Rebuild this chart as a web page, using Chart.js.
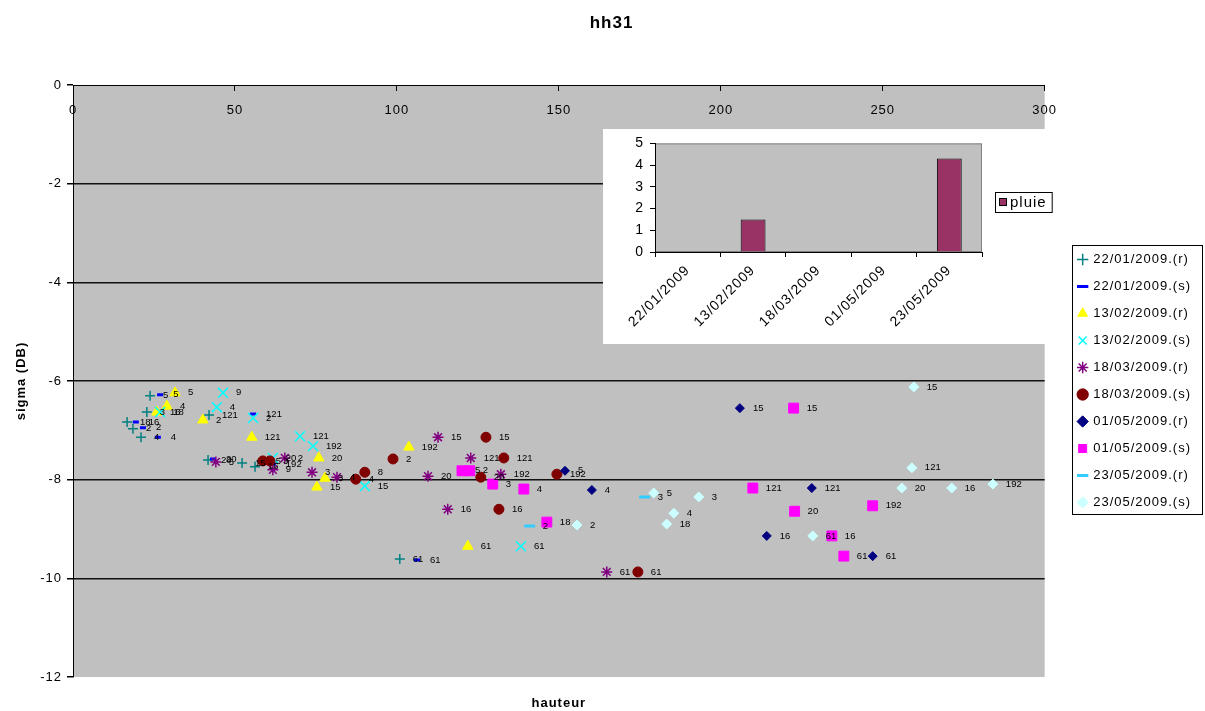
<!DOCTYPE html>
<html><head><meta charset="utf-8">
<script src="https://cdn.jsdelivr.net/npm/chart.js@4.4.1/dist/chart.umd.min.js"></script>
<style>
html,body{margin:0;padding:0;background:#fff;}
#wrap{position:relative;width:1205px;height:711px;overflow:hidden;}
#main{position:absolute;left:0;top:0;}
#inset{position:absolute;left:603px;top:129px;}
</style></head><body>
<div id="wrap"><canvas id="main" width="1205" height="711"></canvas><canvas id="inset" width="466" height="215"></canvas></div>
<script>
// ---------- DATA (hauteur = x, sigma (DB) = y, station ids = point labels) ----------
const seriesNames = ['22/01/2009.(r)','22/01/2009.(s)','13/02/2009.(r)','13/02/2009.(s)','18/03/2009.(r)',
                     '18/03/2009.(s)','01/05/2009.(r)','01/05/2009.(s)','23/05/2009.(r)','23/05/2009.(s)'];

const h_2201r   = [23.8, 22.8, 16.7, 18.5, 21.0, 42.0, 41.7, 52.2, 56.2, 100.9];
const sig_2201r = [-6.30, -6.63, -6.83, -6.97, -7.14, -6.69, -7.60, -7.66, -7.74, -9.61];
const id_2201r  = ['5','3','18','2','4','121','20','15','16','61'];

const h_2201s   = [26.9, 19.4, 21.6, 26.2, 55.6, 43.2, 61.7, 106.2];
const sig_2201s = [-6.28, -6.83, -6.95, -7.14, -6.67, -7.58, -7.68, -9.63];
const id_2201s  = ['5','16','2','4','121','20','192','61'];

const h_1302r   = [31.5, 25.9, 29.0, 40.1, 55.2, 75.9, 77.8, 75.3, 103.7, 121.9];
const sig_1302r = [-6.24, -6.63, -6.51, -6.79, -7.14, -7.56, -7.97, -8.15, -7.34, -9.35];
const id_1302r  = ['5','16','4','2','121','20','3','15','192','61'];

const h_1302s   = [46.3, 44.4, 26.9, 55.6, 70.1, 74.1, 61.7, 90.1, 138.3];
const sig_1302s = [-6.24, -6.53, -6.63, -6.75, -7.12, -7.32, -7.56, -8.13, -9.35];
const id_1302s  = ['9','4','18','2','121','192','20','15','61'];

const h_1803r   = [112.7, 122.8, 109.6, 132.1, 115.7, 164.8, 73.8, 81.5, 44.1, 65.4, 61.7];
const sig_1803r = [-7.14, -7.56, -7.93, -7.89, -8.60, -9.87, -7.85, -7.95, -7.64, -7.56, -7.80];
const id_1803r  = ['15','121','20','192','16','61','3','4','5','2','9'];

const h_1803s   = [127.5, 133.0, 98.8, 90.1, 125.9, 149.4, 131.5, 174.4, 87.3, 58.6, 60.8];
const sig_1803s = [-7.14, -7.56, -7.58, -7.85, -7.95, -7.89, -8.60, -9.87, -7.99, -7.62, -7.62];
const id_1803s  = ['15','121','2','8','20','192','16','61','4','5','3'];

const h_0105r   = [205.9, 151.9, 160.2, 228.1, 214.2, 246.9];
const sig_0105r = [-6.55, -7.82, -8.21, -8.17, -9.14, -9.55];
const id_0105r  = ['15','5','4','121','16','61'];

const h_0105s   = [222.5, 209.9, 222.8, 246.9, 234.3, 238.0, 120.1, 122.5, 129.6, 139.2, 146.3];
const sig_0105s = [-6.55, -8.17, -8.64, -8.53, -9.14, -9.55, -7.82, -7.82, -8.09, -8.19, -8.86];
const id_0105s  = ['15','121','20','192','16','61','5','2','3','4','18'];

const h_2305r   = [176.5, 141.0];
const sig_2305r = [-8.35, -8.94];
const id_2305r  = ['3','2'];

const h_2305s   = [259.6, 259.0, 255.9, 271.3, 284.0, 179.3, 193.2, 185.5, 183.3, 155.6, 228.4];
const sig_2305s = [-6.12, -7.76, -8.17, -8.17, -8.09, -8.27, -8.35, -8.68, -8.90, -8.92, -9.14];
const id_2305s  = ['15','121','20','16','192','5','3','4','18','2','61'];

// inset bar chart (pluie)
const rainDates = ['22/01/2009','13/02/2009','18/03/2009','01/05/2009','23/05/2009'];
const rainMm    = [0, 1.5, 0, 0, 4.3];

// ---------- STYLES ----------
const FONT = '"Liberation Sans", Arial, sans-serif';
Chart.defaults.font.family = FONT;
Chart.defaults.color = '#000';

const seriesH   = [h_2201r, h_2201s, h_1302r, h_1302s, h_1803r, h_1803s, h_0105r, h_0105s, h_2305r, h_2305s];
const seriesSig = [sig_2201r, sig_2201s, sig_1302r, sig_1302s, sig_1803r, sig_1803s, sig_0105r, sig_0105s, sig_2305r, sig_2305s];
const seriesIds = [id_2201r, id_2201s, id_1302r, id_1302s, id_1803r, id_1803s, id_0105r, id_0105s, id_2305r, id_2305s];

const styles = [
  {pointStyle:'cross',    pointRadius:5,   color:'#008080', fill:'#008080', bw:1.5},
  {pointStyle:'line',     pointRadius:3,   color:'#0000FF', fill:'#0000FF', bw:3},
  {pointStyle:'triangle', pointRadius:6,   color:'#FFFF00', fill:'#FFFF00', bw:1},
  {pointStyle:'crossRot', pointRadius:7,   color:'#00FFFF', fill:'#00FFFF', bw:1.5},
  {pointStyle:'star',     pointRadius:5.5, color:'#800080', fill:'#800080', bw:1.5},
  {pointStyle:'circle',   pointRadius:5,   color:'#800000', fill:'#800000', bw:1},
  {pointStyle:'rectRot',  pointRadius:4.5, color:'#000080', fill:'#000080', bw:1},
  {pointStyle:'rect',     pointRadius:7,   color:'#FF00FF', fill:'#FF00FF', bw:1},
  {pointStyle:'line',     pointRadius:5.5, color:'#33CCFF', fill:'#33CCFF', bw:3},
  {pointStyle:'rectRot',  pointRadius:5,   color:'#CCFFFF', fill:'#CCFFFF', bw:1}
];

const datasets = seriesNames.map((name, i) => ({
  label: name,
  data: seriesH[i].map((x, j) => ({x: x, y: seriesSig[i][j]})),
  pointIds: seriesIds[i],
  showLine: false,
  order: seriesNames.length - i,
  xAxisID: 'x', yAxisID: 'y',
  pointStyle: styles[i].pointStyle,
  pointRadius: styles[i].pointRadius,
  pointHoverRadius: styles[i].pointRadius,
  backgroundColor: styles[i].fill,
  borderColor: styles[i].color,
  pointBackgroundColor: styles[i].fill,
  pointBorderColor: styles[i].color,
  pointBorderWidth: styles[i].bw,
  borderWidth: styles[i].bw
}));

// ---------- PLUGINS ----------
const spacing = {
  id: 'spacing',
  beforeLayout(chart) { chart.ctx.letterSpacing = '1px'; },
  beforeDraw(chart) { chart.ctx.letterSpacing = '1px'; }
};
const plotBg = {
  id: 'plotBg',
  beforeDraw(chart, args, opts) {
    const {ctx, chartArea: a} = chart;
    ctx.save();
    ctx.fillStyle = '#ffffff';
    ctx.fillRect(0, 0, chart.width, chart.height);
    ctx.fillStyle = opts.color || '#C0C0C0';
    ctx.fillRect(a.left, a.top, a.right - a.left, a.bottom - a.top);
    ctx.restore();
  }
};
const pointIdLabels = {
  id: 'pointIdLabels',
  afterDatasetsDraw(chart) {
    const ctx = chart.ctx;
    ctx.save();
    ctx.letterSpacing = '0px';
    ctx.font = '9.5px ' + FONT;
    ctx.fillStyle = '#000';
    ctx.textAlign = 'left';
    ctx.textBaseline = 'middle';
    chart.data.datasets.forEach((ds, i) => {
      const meta = chart.getDatasetMeta(i);
      meta.data.forEach((el, j) => {
        ctx.fillText(ds.pointIds[j], el.x + 13, el.y);
      });
    });
    ctx.restore();
  }
};
const legendBox = {
  id: 'legendBox',
  afterDraw(chart) {
    const lg = chart.legend;
    if (!lg || !lg.legendHitBoxes || !lg.legendHitBoxes.length) return;
    const hb = lg.legendHitBoxes;
    const first = hb[0], last = hb[hb.length - 1];
    const ctx = chart.ctx;
    ctx.save();
    ctx.strokeStyle = '#000';
    ctx.lineWidth = 1;
    const x0 = Math.round(first.left - 7) + 0.5;
    const y0 = Math.round(first.top - 8) + 0.5;
    const x1 = chart.width - 2.5;
    const y1 = Math.round(last.top + last.height + 5) + 0.5;
    ctx.strokeRect(x0, y0, x1 - x0, y1 - y0);
    ctx.restore();
  }
};

// ---------- MAIN CHART ----------
new Chart(document.getElementById('main'), {
  type: 'scatter',
  data: {datasets: datasets},
  options: {
    responsive: false, animation: false, events: [],
    devicePixelRatio: 1,
    layout: {padding: {left: 22, right: 4, top: 0, bottom: 0}},
    plugins: {
      title: {display: true, text: 'hh31', color: '#000',
              font: {size: 17, weight: 'bold', lineHeight: '20px'}, padding: {top: 13, bottom: 10}},
      legend: {
        position: 'right', fullSize: false, align: 'center',
        labels: {usePointStyle: true, boxWidth: 8, boxHeight: 8, padding: 14,
                 font: {size: 13}, color: '#000',
                 sort: (a, b) => a.datasetIndex - b.datasetIndex}
      },
      tooltip: {enabled: false},
      plotBg: {color: '#C0C0C0'}
    },
    scales: {
      x: {
        type: 'linear', position: 'top', min: 0, max: 300,
        ticks: {stepSize: 50, mirror: true, padding: 18, font: {size: 13}, color: '#000', maxRotation: 0},
        grid: {drawOnChartArea: false, drawTicks: true, tickLength: -6, color: '#000'},
        border: {display: true, color: '#000', width: 1},
        afterFit: s => { s.height = 42; }
      },
      xb: {
        type: 'linear', position: 'bottom', min: 0, max: 300,
        ticks: {display: false}, grid: {display: false}, border: {display: false},
        title: {display: true, text: 'hauteur', font: {size: 13, weight: 'bold'}, color: '#000', padding: {top: 0, bottom: 0}},
        afterFit: s => { s.height = 34; }
      },
      y: {
        type: 'linear', position: 'left', min: -12, max: 0,
        ticks: {stepSize: 2, font: {size: 13}, color: '#000', padding: 5},
        grid: {
          color: c => (c.tick && c.tick.value > -12 && c.tick.value < 0) ? '#111' : 'rgba(0,0,0,0)',
          lineWidth: 1.5, tickColor: '#000', tickLength: 6, drawTicks: true
        },
        border: {display: true, color: '#000', width: 1},
        title: {display: true, text: 'sigma (DB)', font: {size: 13, weight: 'bold'}, color: '#000', padding: {top: -8, bottom: 0}},
        afterFit: s => { s.width = 51; }
      },
      sp: {
        type: 'linear', position: 'right', display: true,
        ticks: {display: false}, grid: {display: false}, border: {display: false},
        afterFit: s => { s.width = 20; }
      }
    }
  },
  plugins: [spacing, plotBg, pointIdLabels, legendBox]
});

// ---------- INSET BAR CHART ----------
const insetBg = {
  id: 'insetBg',
  beforeDraw(chart) {
    const {ctx, chartArea: a} = chart;
    ctx.save();
    ctx.fillStyle = '#ffffff';
    ctx.fillRect(0, 0, chart.width, chart.height);
    ctx.fillStyle = '#C0C0C0';
    ctx.fillRect(a.left, a.top, a.right - a.left, a.bottom - a.top);
    ctx.strokeStyle = '#808080';
    ctx.lineWidth = 1;
    ctx.strokeRect(a.left + 0.5, a.top + 0.5, a.right - a.left - 1, a.bottom - a.top - 1);
    ctx.restore();
  }
};
const insetLegend = {
  id: 'insetLegend',
  afterDraw(chart) {
    const ctx = chart.ctx, ds = chart.data.datasets[0], a = chart.chartArea;
    const bx = a.right + 13, by = Math.round((a.top + a.bottom) / 2) - 6;
    ctx.save();
    ctx.letterSpacing = '1px';
    ctx.font = '15px ' + FONT;
    const tw = ctx.measureText(ds.label).width;
    const w = tw + 20, h = 20;
    ctx.fillStyle = '#fff';
    ctx.fillRect(bx, by, w, h);
    ctx.strokeStyle = '#000'; ctx.lineWidth = 1;
    ctx.strokeRect(bx + 0.5, by + 0.5, w, h);
    ctx.fillStyle = ds.backgroundColor;
    ctx.fillRect(bx + 4, by + 6, 8, 8);
    ctx.strokeRect(bx + 4.5, by + 6.5, 7, 7);
    ctx.fillStyle = '#000';
    ctx.textBaseline = 'middle'; ctx.textAlign = 'left';
    ctx.fillText(ds.label, bx + 15, by + h / 2 + 1);
    ctx.restore();
  }
};
new Chart(document.getElementById('inset'), {
  type: 'bar',
  data: {labels: rainDates,
         datasets: [{label: 'pluie', data: rainMm, backgroundColor: '#993366', borderColor: '#000',
                     borderWidth: 1, categoryPercentage: 1, barPercentage: 0.38}]},
  options: {
    responsive: false, animation: false, events: [], devicePixelRatio: 1,
    layout: {padding: {top: 14, right: 87, left: 0, bottom: 0}},
    plugins: {legend: {display: false}, tooltip: {enabled: false}},
    scales: {
      x: {
        grid: {display: true, drawOnChartArea: false, drawTicks: true, tickLength: 5, color: '#000', offset: true},
        border: {color: '#000'},
        ticks: {minRotation: 45, maxRotation: 45, autoSkip: false, font: {size: 14}, color: '#000', padding: 5},
        afterFit: s => { s.height = 92; }
      },
      y: {
        min: 0, max: 5,
        ticks: {stepSize: 1, font: {size: 14}, color: '#000', padding: 6},
        grid: {drawOnChartArea: false, tickLength: 5, color: '#000'},
        border: {color: '#000'},
        afterFit: s => { s.width = 52; }
      }
    }
  },
  plugins: [spacing, insetBg, insetLegend]
});
</script>
</body></html>
